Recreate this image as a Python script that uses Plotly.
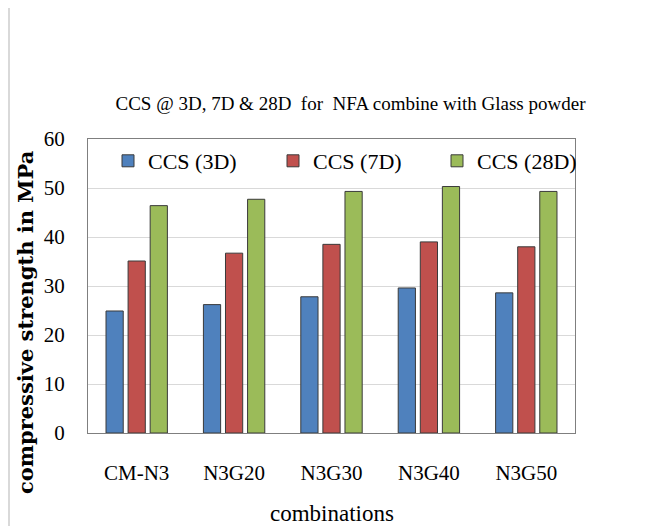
import plotly.graph_objects as go

categories = ["CM-N3", "N3G20", "N3G30", "N3G40", "N3G50"]
ccs_3d = [24.9, 26.2, 27.8, 29.6, 28.6]
ccs_7d = [35.1, 36.7, 38.5, 39.0, 38.0]
ccs_28d = [46.4, 47.7, 49.3, 50.3, 49.3]
series_names = ["CCS (3D)", "CCS (7D)", "CCS (28D)"]
colors = ["#4F81BD", "#C0504D", "#9BBB59"]

OFF = 8  # page body margin
W, H = 657 - OFF, 526 - OFF
# plot area in screen pixels: x 88..575, y 139..433
L, R, T, B = 88 - OFF, 657 - 575, 139 - OFF, 526 - 433
pw, ph = W - L - R, H - T - B

def px_x(x):
    return (x - OFF - L) / pw

def px_y(y):
    return (H - B - (y - OFF)) / ph

serif = "Liberation Serif"
legend_names = ["legend", "legend2", "legend3"]
legend_x = [108, 273, 437]

fig = go.Figure()
for name, vals, col, lg in zip(series_names, [ccs_3d, ccs_7d, ccs_28d], colors, legend_names):
    fig.add_trace(go.Bar(
        x=categories, y=vals, name=name, legend=lg,
        marker=dict(color=col, line=dict(color="#3A3A3A", width=1)),
    ))

legend_layout = {}
for lg, lx in zip(legend_names, legend_x):
    legend_layout[lg] = dict(x=px_x(lx), xanchor="left", y=px_y(161), yanchor="middle",
                             font=dict(family=serif, size=22, color="#000000"),
                             bgcolor="rgba(0,0,0,0)")

fig.update_layout(
    width=W, height=H,
    margin=dict(l=L, r=R, t=T, b=B),
    paper_bgcolor="white", plot_bgcolor="white",
    barmode="group", bargap=0.32, bargroupgap=0.22,
    font=dict(family=serif, color="#000000"),
    title=dict(text="CCS @ 3D, 7D & 28D  for  NFA combine with Glass powder",
               x=px_x(345), xanchor="center", y=1 - (103 - OFF) / H, yanchor="middle",
               font=dict(family=serif, size=19, color="#000000")),
    showlegend=True,
    **legend_layout,
)
fig.update_yaxes(range=[0, 60], dtick=10, showgrid=True, gridcolor="#D9D9D9", gridwidth=1,
                 showline=True, linecolor="#7F7F7F", linewidth=1, mirror=True,
                 ticks="", ticklabelstandoff=18, automargin=False,
                 tickfont=dict(family=serif, size=21), zeroline=False)
fig.update_xaxes(showline=True, linecolor="#7F7F7F", linewidth=1, mirror=True,
                 ticks="", ticklabelstandoff=21, automargin=False,
                 tickfont=dict(family=serif, size=21))

fig.add_annotation(text="combinations",
                   xref="paper", yref="paper", x=0.5, y=px_y(513),
                   xanchor="center", yanchor="middle", showarrow=False,
                   font=dict(family=serif, size=23, color="#000000"))

fig.add_annotation(text="<b>compressive strength in MPa</b>", textangle=-90,
                   xref="paper", yref="paper", x=px_x(25), y=px_y(322),
                   xanchor="center", yanchor="middle", showarrow=False,
                   font=dict(family="DejaVu Serif", size=21, color="#000000"))

fig.add_shape(type="line", xref="paper", yref="paper",
              x0=px_x(9), x1=px_x(9), y0=px_y(526), y1=px_y(OFF),
              line=dict(color="#D9D9D9", width=2))

fig.write_html("out.html")
